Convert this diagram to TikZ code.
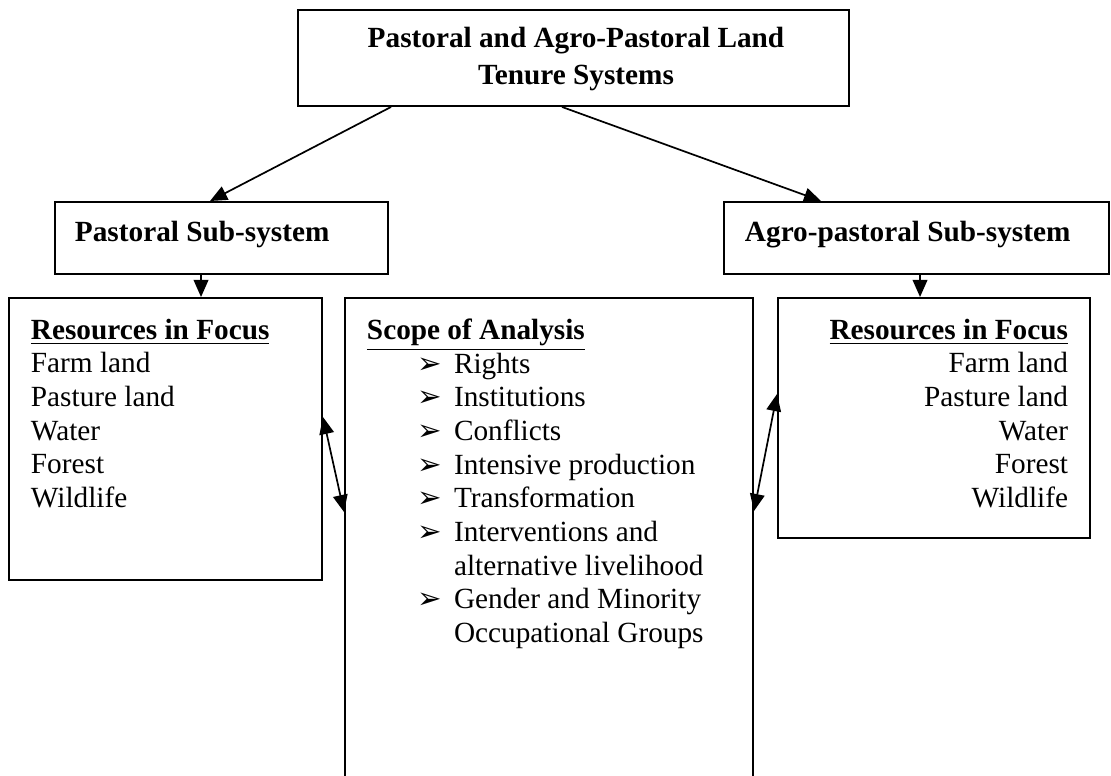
\documentclass[tikz,border=0pt]{standalone}
\usepackage{fontspec}
\setmainfont{Liberation Serif}
\newfontfamily\dingfont{DejaVu Sans}
\usetikzlibrary{arrows.meta,calc,fit}
\newcommand{\itemarrow}{\makebox[14.8pt][l]{\dingfont\fontsize{12}{12}\selectfont ➢}}
\newcommand{\itemgap}{\hspace*{20.9pt}}

\begin{document}
\begin{tikzpicture}[x=0.41pt,y=-0.41pt,line width=0.8pt,box/.style={draw,inner sep=0pt},txt/.style={inner sep=0pt,font=\fontsize{12}{13.8}\selectfont},head/.style={inner sep=0pt,font=\fontsize{12}{13.8}\selectfont\bfseries},flow/.style={-{Triangle[length=7pt,width=6pt]},line width=0.7pt},both/.style={{Triangle[length=7pt,width=6pt]}-{Triangle[length=7pt,width=6pt]},line width=0.7pt}]
\useasboundingbox (0,0) rectangle (1111,776);
\node[box,fit={(298,10) (849,106)}] (tenure) {};
\node[head,align=center,font=\fontsize{12}{14.8}\selectfont\bfseries] (tenuretxt) at (576,59) {Pastoral and Agro-Pastoral Land\\Tenure Systems};
\node[box,fit={(55,202) (388,274)}] (pastoral) {};
\node[box,fit={(724,202) (1109,274)}] (agro) {};
\node[head,anchor=base west] (pastoraltxt) at (74,242) {Pastoral Sub-system};
\node[head,anchor=base west] (agrotxt) at (744,242) {Agro-pastoral Sub-system};
\node[box,fit={(9,298) (322,580)}] (resleft) {};
\node[box,fit={(345,298) (753,782)}] (scope) {};
\node[box,fit={(778,298) (1090,538)}] (resright) {};
\node[txt,anchor=north west,align=left] (resleftlist) at (30,318) {\underline{\textbf{Resources in Focus}}\\Farm land\\Pasture land\\Water\\Forest\\Wildlife};
\node[txt,anchor=north east,align=right] (resrightlist) at (1069,318) {\underline{\textbf{Resources in Focus}}\\Farm land\\Pasture land\\Water\\Forest\\Wildlife};
\node[txt,anchor=north west,align=left] (scopelist) at (366,318) {\underline{\textbf{Scope of Analysis}}\\
\itemgap\itemarrow Rights\\
\itemgap\itemarrow Institutions\\
\itemgap\itemarrow Conflicts\\
\itemgap\itemarrow Intensive production\\
\itemgap\itemarrow Transformation\\
\itemgap\itemarrow Interventions and\\
\itemgap\hspace*{14.8pt}alternative livelihood\\
\itemgap\itemarrow Gender and Minority\\
\itemgap\hspace*{14.8pt}Occupational Groups};
\draw[flow] ($(tenure.south west)+(94,0)$) -- ($(pastoral.north west)+(156,0)$);
\draw[flow] ($(tenure.south west)+(265,0)$) -- ($(agro.north west)+(98,0)$);
\draw[flow] ($(pastoral.south west)+(147,0)$) -- ($(resleft.north west)+(193,0)$);
\draw[flow] ($(agro.south west)+(197,0)$) -- ($(resright.north west)+(143,0)$);
\draw[both] ($(resleft.north east)+(0,120)$) -- ($(scope.north west)+(0,215)$);
\draw[both] ($(resright.north west)+(0,97)$) -- ($(scope.north east)+(0,214)$);
\end{tikzpicture}
\end{document}
